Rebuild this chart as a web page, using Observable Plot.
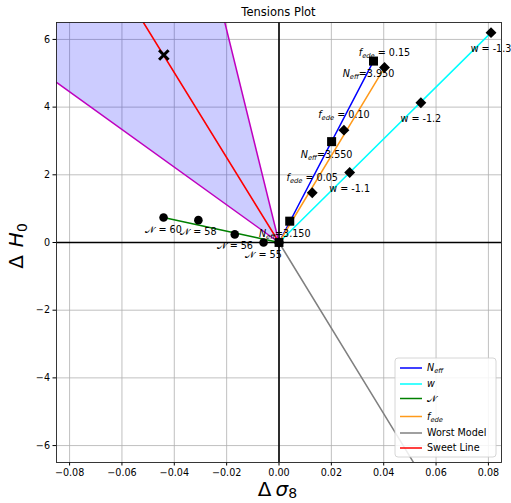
<!DOCTYPE html>
<html>
<head>
<meta charset="utf-8">
<script src="https://cdn.jsdelivr.net/npm/d3@7"></script>
<script src="https://cdn.jsdelivr.net/npm/@observablehq/plot@0.6"></script>
<style>
  body { margin: 0; background: white; }
  svg { display: block; }
</style>
</head>
<body>
<script>
// ---- data ----
const xTicks = [-0.08, -0.06, -0.04, -0.02, 0, 0.02, 0.04, 0.06, 0.08];
const yTicks = [-6, -4, -2, 0, 2, 4, 6];

const neffDS8 = [0.0041, 0.0201, 0.0361];
const neffDH0 = [0.63, 2.98, 5.36];
const neffLabels = ["3.150", "3.550", "3.950"];

const fedeDS8 = [0.0127, 0.0248, 0.0403];
const fedeDH0 = [1.47, 3.32, 5.17];
const fedeLabels = ["0.05", "0.10", "0.15"];

const wDS8 = [0.0270, 0.0542, 0.0810];
const wDH0 = [2.07, 4.13, 6.20];
const wLabels = ["-1.1", "-1.2", "-1.3"];

const nDS8 = [-0.0441, -0.0308, -0.0169, -0.0059];
const nDH0 = [0.74, 0.66, 0.24, 0.00];
const nLabels = ["60", "58", "56", "55"];

const sweetEnd = [-0.0518, 6.5];
const sweetPoint = [-0.0440, 5.54];
const worstEnd = [0.0514, -6.5];
const boundA = [-0.085, 4.73];
const boundB = [-0.0207, 6.5];
const origin = [0, 0];

const titleText = "Tensions Plot";
const xLabel = "Δ\u2009*σ*_{8}";
const yLabel = "Δ\u2009\u2009*H*_{0}";

// ---- derived tables ----
const pts = (xs, ys, labs) => xs.map((x, i) => ({x, y: ys[i], label: labs ? labs[i] : ""}));
const neff = pts(neffDS8, neffDH0, neffLabels);
const fede = pts(fedeDS8, fedeDH0, fedeLabels);
const wpts = pts(wDS8, wDH0, wLabels);
const npts = pts(nDS8, nDH0, nLabels);
const seg = (a, b) => [{x: a[0], y: a[1]}, {x: b[0], y: b[1]}];
const last = arr => [arr[arr.length - 1].x, arr[arr.length - 1].y];
const first = arr => [arr[0].x, arr[0].y];

// shaded wedge between the two magenta boundary lines, capped at the top of the axes
const slopeA = boundA[1] / boundA[0];
const shade = [
  {x: boundA[0], y1: boundA[1], y2: boundB[1]},
  {x: boundB[0], y1: slopeA * boundB[0], y2: boundB[1]},
  {x: origin[0], y1: origin[1], y2: origin[1]}
];

const C = {neff: "#0000ff", w: "#00ffff", n: "#008000", fede: "#ff9a1a", worst: "#808080", sweet: "#ff0000", bound: "#bf00bf"};
const lw = 1.5;
const W = 511, H = 503, ml = 56, mr = 10, mt = 22, mb = 41;

const svg = Plot.plot({
  width: W,
  height: H,
  marginLeft: ml,
  marginRight: mr,
  marginTop: mt,
  marginBottom: mb,
  style: {fontFamily: "DejaVu Sans", fontSize: "9.6px", background: "white", color: "black"},
  x: {domain: [-0.085, 0.085], ticks: xTicks, tickFormat: d3.format(".2f"), tickSize: 3.5, tickPadding: 3, label: null},
  y: {domain: [-6.5, 6.5], ticks: yTicks, tickFormat: d3.format("d"), tickSize: 3.5, tickPadding: 3, label: null},
  marks: [
    Plot.ruleX(xTicks, {stroke: "#b0b0b0", strokeWidth: 0.8}),
    Plot.ruleY(yTicks, {stroke: "#b0b0b0", strokeWidth: 0.8}),
    Plot.areaY(shade, {x: "x", y1: "y1", y2: "y2", fill: "blue", fillOpacity: 0.2, curve: "linear"}),
    Plot.ruleX([0], {stroke: "black", strokeWidth: 1.6}),
    Plot.ruleY([0], {stroke: "black", strokeWidth: 1.6}),
    Plot.line(seg(origin, boundA), {x: "x", y: "y", stroke: C.bound, strokeWidth: lw, clip: true}),
    Plot.line(seg(origin, boundB), {x: "x", y: "y", stroke: C.bound, strokeWidth: lw, clip: true}),
    Plot.line(seg(origin, last(neff)), {x: "x", y: "y", stroke: C.neff, strokeWidth: lw}),
    Plot.line(seg(origin, last(wpts)), {x: "x", y: "y", stroke: C.w, strokeWidth: lw}),
    Plot.line(seg(origin, first(npts)), {x: "x", y: "y", stroke: C.n, strokeWidth: lw}),
    Plot.line(seg(origin, last(fede)), {x: "x", y: "y", stroke: C.fede, strokeWidth: lw}),
    Plot.line(seg(origin, worstEnd), {x: "x", y: "y", stroke: C.worst, strokeWidth: lw, clip: true}),
    Plot.line(seg(origin, sweetEnd), {x: "x", y: "y", stroke: C.sweet, strokeWidth: lw, clip: true}),
    // markers
    Plot.dot([{x: origin[0], y: origin[1]}], {x: "x", y: "y", symbol: "diamond2", r: 4.9, fill: "black"}),
    Plot.dot([{x: origin[0], y: origin[1]}], {x: "x", y: "y", symbol: "square", r: 5, fill: "black"}),
    Plot.dot(neff, {x: "x", y: "y", symbol: "square", r: 5.1, fill: "black"}),
    Plot.dot(fede, {x: "x", y: "y", symbol: "diamond2", r: 4.9, fill: "black"}),
    Plot.dot(wpts, {x: "x", y: "y", symbol: "diamond2", r: 4.9, fill: "black"}),
    Plot.dot(npts, {x: "x", y: "y", symbol: "circle", r: 4.3, fill: "black"}),
    Plot.dot([{x: sweetPoint[0], y: sweetPoint[1]}], {x: "x", y: "y", symbol: "times", r: 4.4, stroke: "black", strokeWidth: 3}),
    // annotations
    Plot.text(neff, {x: "x", y: "y", text: d => "*N*_{eff}=" + d.label, dx: -5, dy: 13, fill: "black", fontSize: 9.6}),
    Plot.text(fede, {x: "x", y: "y", text: d => "*f*_{ede} = " + d.label, dy: -15, fill: "black", fontSize: 9.6}),
    Plot.text(wpts, {x: "x", y: "y", text: d => "w = " + d.label, dy: 16, fill: "black", fontSize: 9.6}),
    Plot.text(npts, {x: "x", y: "y", text: d => "𝒩 = " + d.label, dy: 12, fill: "black", fontSize: 9.6}),
    Plot.frame({stroke: "#222", strokeWidth: 0.9})
  ]
});
document.body.appendChild(svg);

// ---- rich text: *italic* and _{subscript} ----
const NS = "http://www.w3.org/2000/svg";
function richify(el, fsOverride, shiftFrac = 0.2) {
  const s = el.textContent;
  if (!/\*|_\{/.test(s)) return;
  const fs = fsOverride || parseFloat(el.getAttribute("font-size") || el.parentNode.getAttribute("font-size") || "9.6");
  el.textContent = "";
  const parts = s.split(/(\*[^*]+\*|_\{[^}]+\})/).filter(Boolean);
  for (const p of parts) {
    const t = document.createElementNS(NS, "tspan");
    if (p.startsWith("*")) {
      t.textContent = p.slice(1, -1);
      t.setAttribute("font-style", "italic");
    } else if (p.startsWith("_{")) {
      const c = p.slice(2, -1);
      t.textContent = c;
      if (/[a-z]/i.test(c)) t.setAttribute("font-style", "italic");
      t.setAttribute("font-size", (fs * 0.7).toFixed(2));
      t.setAttribute("baseline-shift", (-fs * shiftFrac).toFixed(2));
    } else {
      t.textContent = p;
    }
    el.appendChild(t);
  }
}
svg.querySelectorAll("text").forEach(t => richify(t));

const root = d3.select(svg);
const frameCx = ml + (W - ml - mr) / 2;
const frameCy = mt + (H - mt - mb) / 2;

// title and axis labels
root.append("text").attr("x", frameCx).attr("y", mt - 10).attr("dy", "0.35em")
  .attr("text-anchor", "middle").attr("font-family", "DejaVu Sans").attr("font-size", 11.5).attr("fill", "black").text(titleText);
const xl = root.append("text").attr("x", frameCx - 1).attr("y", H - 7)
  .attr("text-anchor", "middle").attr("font-family", "DejaVu Sans").attr("font-size", 20).attr("fill", "black").text(xLabel);
richify(xl.node(), 20, 0.12);
const yl = root.append("text").attr("transform", `translate(23,${frameCy + 4}) rotate(-90)`)
  .attr("text-anchor", "middle").attr("font-family", "DejaVu Sans").attr("font-size", 20).attr("fill", "black").text(yLabel);
richify(yl.node(), 20);

// ---- legend ----
const legendItems = [
  {label: "*N*_{eff}", color: C.neff, dy: 10},
  {label: "*w*", color: C.w, dy: 26},
  {label: "𝒩", color: C.n, dy: 40.5},
  {label: "*f*_{ede}", color: C.fede, dy: 58.5},
  {label: "Worst Model", color: C.worst, dy: 75},
  {label: "Sweet Line", color: C.sweet, dy: 90}
];
const boxW = 101, boxH = 99;
const bx = W - mr - 5 - boxW, by = H - mb - 5 - boxH;
const lg = root.append("g").attr("font-family", "DejaVu Sans").attr("font-size", 9.6).attr("text-anchor", "start");
lg.append("rect").attr("x", bx).attr("y", by).attr("width", boxW).attr("height", boxH)
  .attr("rx", 3).attr("fill", "white").attr("fill-opacity", 0.85).attr("stroke", "#cccccc").attr("stroke-width", 0.8);
legendItems.forEach(it => {
  const y = by + it.dy;
  lg.append("line").attr("x1", bx + 5).attr("x2", bx + 27).attr("y1", y).attr("y2", y)
    .attr("stroke", it.color).attr("stroke-width", lw);
  const t = lg.append("text").attr("x", bx + 32).attr("y", y).attr("dy", "0.35em")
    .attr("text-anchor", "start").attr("fill", "black").text(it.label);
  richify(t.node(), 9.6);
});
</script>
</body>
</html>
